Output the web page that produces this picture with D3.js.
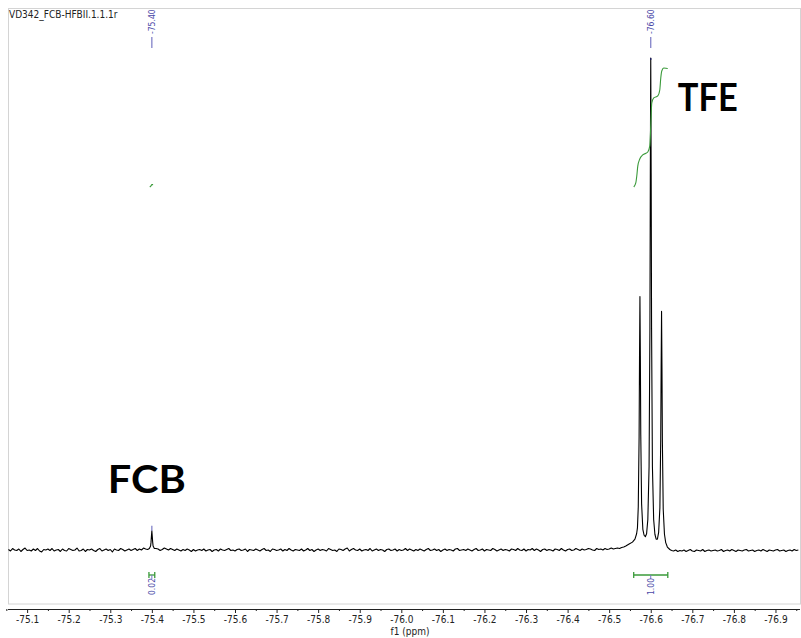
<!DOCTYPE html>
<html><head><meta charset="utf-8">
<script src="https://cdn.jsdelivr.net/npm/d3@7"></script>
<style>body{margin:0;background:#fff}svg{display:block}</style>
</head><body>
<svg id="c" width="801" height="638"></svg>
<script>
// ---------------- DATA ----------------
const title = "VD342_FCB-HFBII.1.1.1r";
const axisTitle = "f1 (ppm)";
const majorTicks = [-75.1,-75.2,-75.3,-75.4,-75.5,-75.6,-75.7,-75.8,-75.9,-76.0,-76.1,-76.2,-76.3,-76.4,-76.5,-76.6,-76.7,-76.8,-76.9];
const minorTicks = [-75.05,-75.15,-75.25,-75.35,-75.45,-75.55,-75.65,-75.75,-75.85,-75.95,-76.05,-76.15,-76.25,-76.35,-76.45,-76.55,-76.65,-76.75,-76.85,-76.95];
const peakPicks = [{ppm:-75.40, label:"-75.40", height:3.9}, {ppm:-76.60, label:"-76.60", height:100}];
// FCB singlet (ppm, intensity)
const fcbPeak = [[-75.394,0.3],[-75.397,0.8],[-75.398,1.6],[-75.399,2.8],[-75.400,3.9],[-75.401,2.8],[-75.402,1.6],[-75.403,0.8],[-75.406,0.3]];
// TFE triplet (ppm, intensity)
const tfePeak = [[-76.540,0.8],[-76.548,1.2],[-76.556,1.6],[-76.562,2.2],[-76.566,3.3],[-76.568,4.5],[-76.570,8.8],[-76.572,23],[-76.573,39],[-76.574,51.5],[-76.575,39.5],[-76.576,23.5],[-76.578,9.4],[-76.581,4.2],[-76.584,3.0],[-76.587,2.7],[-76.590,3.3],[-76.593,6.2],[-76.596,17],[-76.598,45],[-76.599,76.5],[-76.600,100],[-76.601,76.5],[-76.602,45],[-76.604,17],[-76.607,6.2],[-76.610,3.2],[-76.613,2.2],[-76.616,2.2],[-76.619,3.6],[-76.622,8.6],[-76.624,22.5],[-76.625,37],[-76.626,48.5],[-76.627,37],[-76.628,22],[-76.630,8.3],[-76.633,3.2],[-76.636,1.5],[-76.640,0.6],[-76.646,0.1]];
// baseline noise, tenths of intensity unit, every 0.005 ppm from -75.055
const noiseStart = -75.055, noiseStep = 0.005;
const noise = [
 1,-2,3,0,-1,2,-3,1,4,-1,0,-2,2,-1,3,-2,-4,1,0,2,
 -1,3,-2,0,1,-3,2,-1,-2,3,1,-1,0,4,-2,-1,2,-3,1,0,
 2,-1,-3,1,3,-2,0,2,-1,1,-4,2,0,-1,3,1,-2,0,2,-1,
 1,3,-1,2,0,4,2,1,0,0,0,3,2,-1,1,4,2,0,3,1,
 -1,2,0,-2,1,-1,2,0,-3,1,-2,0,1,-1,2,-2,0,1,-3,0,
 1,-2,2,0,-1,1,3,-1,0,-2,1,2,-1,0,2,-3,1,0,-1,2,
 0,-2,1,3,-1,0,-3,2,1,-1,0,2,-2,1,-1,3,0,-2,1,0,
 -1,2,-2,0,3,-1,1,-3,0,2,-1,1,0,-2,3,1,-1,0,-3,2,
 1,-1,2,4,-2,1,3,0,-1,2,-2,0,1,-1,3,-2,0,2,-1,1,
 0,-3,1,2,-1,0,2,-2,1,-1,0,3,-1,2,0,-2,1,-1,2,0,
 -2,1,3,-1,0,2,-1,1,-3,0,2,-1,1,0,-2,2,3,-1,0,1,
 -1,2,0,-2,1,3,-1,0,2,-2,1,0,-1,3,1,-2,0,2,-1,1,
 0,-2,2,1,-1,3,0,-1,2,-2,1,0,3,-1,2,0,-3,1,2,-1,
 1,0,-2,2,1,-1,3,0,-2,1,2,-1,0,3,1,-1,2,0,1,3,
 2,0,-1,3,1,2,0,3,1,2,4,2,3,4,3,5,6,0,0,0,
 0,0,0,0,0,0,0,0,0,0,0,0,0,0,0,0,0,0,0,-1,
 -2,0,-3,-1,-2,0,-3,-1,1,-2,-3,0,-1,-2,1,-3,-1,0,-2,-1,
 0,-2,-1,1,-3,-1,0,-2,1,-1,-3,0,-1,-2,0,1,-2,-1,0,-3,
 -1,0,-2,1,-1,-3,0,-1,-2,0,1,-2,-1,0,-3,-1,0,-2,1,-1,
 0];
// integrals
const integrals = [{from:-75.393, to:-75.407, center:-75.400, label:"0.02"},
                   {from:-76.559, to:-76.641, center:-76.600, label:"1.00"}];
// integral curves (ppm, cumulative %)
const fcbIntCurve = [[-75.395,0],[-75.398,1],[-75.400,2],[-75.403,2]];
const tfeIntCurve = [[-76.5592,0],[-76.5640,3.4],[-76.5664,9.2],[-76.5688,17.6],[-76.5736,23.5],[-76.5808,26.9],[-76.5929,29.4],[-76.5977,34.5],[-76.6001,52],[-76.6025,70.6],[-76.6073,74.8],[-76.6169,76.5],[-76.6217,81.5],[-76.6241,91.6],[-76.6265,97.5],[-76.6313,100],[-76.6409,99.6]];
const compoundLabels = [{text:"FCB", ppm:-75.388, len:78, base:493},{text:"TFE", ppm:-76.737, len:60, base:111}];

// ---------------- DRAW ----------------
const svg = d3.select("#c");
const x = d3.scaleLinear().domain([-75.054, -76.959]).range([8, 800]);
const y = d3.scaleLinear().domain([0, 100]).range([550, 58]);
const yInt = d3.scaleLinear().domain([0, 100]).range([187, 68]);
const blue = "#4a4aa8", blueLine = "#7878c4", green = "#3a9a3a";
const smallFont = "'DejaVu Sans Condensed','DejaVu Sans',sans-serif";

// frame
svg.append("rect").attr("x",8.5).attr("y",8.5).attr("width",792).attr("height",595.5)
  .attr("fill","none").attr("stroke","#d4d4d4").attr("stroke-width",1);

// title
svg.append("text").attr("x",9).attr("y",18).attr("font-family",smallFont).attr("font-size",10)
  .attr("fill","#222").text(title);

// build spectrum
const pts = [];
noise.forEach((v,i)=>{
  const p = noiseStart - i*noiseStep;
  const inFcb = p < -75.392 && p > -75.408;
  const inTfe = p < -76.538 && p > -76.648;
  if (!inFcb && !inTfe) pts.push([p, v/10]);
});
fcbPeak.forEach(d=>pts.push(d));
tfePeak.forEach(d=>pts.push(d));
pts.sort((a,b)=>b[0]-a[0]);
const line = d3.line().x(d=>x(d[0])).y(d=>y(d[1]));
svg.append("path").datum(pts).attr("d",line).attr("fill","none").attr("stroke","#000").attr("stroke-width",1.1)
  .attr("stroke-linejoin","round");

// peak pick markers at tops
peakPicks.forEach(p=>{
  const top = y(p.height);
  svg.append("line").attr("x1",x(p.ppm)).attr("x2",x(p.ppm))
    .attr("y1", p.height<10 ? top-5 : top).attr("y2", p.height<10 ? top : top+2)
    .attr("stroke", p.height<10 ? blueLine : "#1a1a66").attr("stroke-width",1.2);
  svg.append("text").attr("transform",`translate(${x(p.ppm)},34) rotate(-90)`)
    .attr("dy","0.35em").attr("text-anchor","start").attr("font-family",smallFont).attr("font-size",8.5)
    .attr("fill",blue).text(p.label);
  svg.append("line").attr("x1",x(p.ppm)).attr("x2",x(p.ppm)).attr("y1",37).attr("y2",48)
    .attr("stroke",blueLine).attr("stroke-width",1.2);
});

// integral curves
const iline = d3.line().x(d=>x(d[0])).y(d=>yInt(d[1])).curve(d3.curveMonotoneX);
[fcbIntCurve, tfeIntCurve].forEach(c=>{
  svg.append("path").datum(c).attr("d",iline).attr("fill","none").attr("stroke",green).attr("stroke-width",1.1);
});

// integral bars and labels
integrals.forEach(g=>{
  const x1 = x(g.from), x2 = x(g.to), yb = 575;
  svg.append("line").attr("x1",x1).attr("x2",x2).attr("y1",yb).attr("y2",yb).attr("stroke",green).attr("stroke-width",1.3);
  [x1,x2].forEach(xx=>svg.append("line").attr("x1",xx).attr("x2",xx).attr("y1",yb-3).attr("y2",yb+3).attr("stroke",green).attr("stroke-width",1.3));
  svg.append("line").attr("x1",x(g.center)).attr("x2",x(g.center)).attr("y1",yb).attr("y2",yb+4).attr("stroke",blueLine).attr("stroke-width",1);
  svg.append("text").attr("transform",`translate(${x(g.center)},578) rotate(-90)`)
    .attr("dy","0.35em").attr("text-anchor","end").attr("font-family",smallFont).attr("font-size",8.5)
    .attr("fill",blue).text(g.label);
});

// compound labels
compoundLabels.forEach(c=>{
  svg.append("text").attr("x",x(c.ppm)).attr("y",c.base).attr("text-anchor","middle")
    .attr("font-family","Lato,'Liberation Sans',Arial,sans-serif").attr("font-weight","bold").attr("font-size",38)
    .attr("textLength",c.len).attr("lengthAdjust","spacingAndGlyphs").attr("fill","#000").text(c.text);
});

// axis
const axG = svg.append("g").attr("transform","translate(0,609)");
axG.call(d3.axisBottom(x).tickValues(majorTicks).tickSize(4).tickSizeOuter(0).tickPadding(3).tickFormat(d=>d.toFixed(1)));
axG.selectAll(".tick text").attr("font-family",smallFont).attr("font-size",10).attr("fill","#222");
axG.selectAll(".tick line").attr("stroke","#222");
axG.select(".domain").attr("stroke","#222").attr("d","M8,0.5H800");
const axM = svg.append("g").attr("transform","translate(0,609)");
axM.call(d3.axisBottom(x).tickValues(minorTicks).tickSize(2).tickSizeOuter(0).tickFormat(""));
axM.select(".domain").remove();
axM.selectAll(".tick line").attr("stroke","#222");
svg.append("text").attr("x",410).attr("y",635).attr("text-anchor","middle").attr("font-family",smallFont)
  .attr("font-size",10).attr("fill","#222").text(axisTitle);
</script>
</body></html>
